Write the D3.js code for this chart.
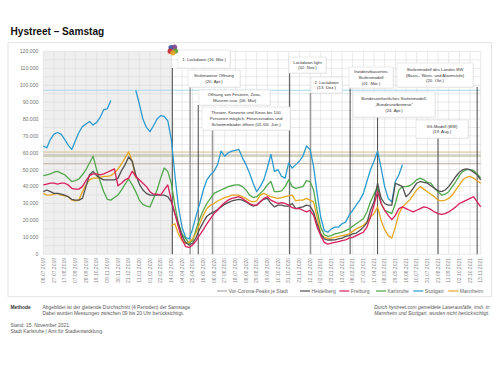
<!DOCTYPE html>
<html><head><meta charset="utf-8">
<script src="https://cdn.jsdelivr.net/npm/d3@7/dist/d3.min.js"></script>
<style>
body{margin:0;background:#fff;}
svg{display:block;font-family:"Liberation Sans",Arial,sans-serif;}
</style></head><body>
<svg id="c" width="500" height="373"></svg>
<script>
// ---------- DATA (values in thousands of passers-by, weekly Saturdays) ----------
const firstSaturday = "2019-07-06";
const lastSaturday = "2021-11-13";
const tickLabels = ["06.07.2019","27.07.2019","17.08.2019","07.09.2019","28.09.2019","19.10.2019","09.11.2019","30.11.2019","21.12.2019","11.01.2020","01.02.2020","22.02.2020","14.03.2020","04.04.2020","25.04.2020","16.05.2020","06.06.2020","27.06.2020","18.07.2020","08.08.2020","29.08.2020","19.09.2020","10.10.2020","31.10.2020","21.11.2020","12.12.2020","02.01.2021","23.01.2021","13.02.2021","06.03.2021","27.03.2021","17.04.2021","08.05.2021","29.05.2021","19.06.2021","10.07.2021","31.07.2021","21.08.2021","11.09.2021","02.10.2021","23.10.2021","13.11.2021"];
const yTicks = [0,10,20,30,40,50,60,70,80,90,100,110,120];
const yTickLabels = ["0","10.000","20.000","30.000","40.000","50.000","60.000","70.000","80.000","90.000","100.000","110.000","120.000"];

const heidelberg = [37,38,37,36,36,35.5,35,34,32.5,32, 32,33,40,47,49,46.5,45,44,44,44, 44,45,49.5,53,57.5,55,47,41.5,38,36, 35,35,35,35,35,34,31,24,18,11, 7,5.5,6.5,10,15,19,22.5,24,25,26.5, 28,29.5,30.5,31.5,32,32.5,32,31,29.5,28.5, 29,31,32.5,33,30,28,29,29,28.5,28.5, 30,27,27.5,28,29,28.5,25,18,12,9, 8.4,8.4,8.5,9,9.5,10.5,11,12,12.5,14, 16,18.5,26,31,42,33,30,29,29,42, 41,40,34,36,39,42,43,42.5,42,40.5, 39,37.5,37,38,40,43,46,48.5,50,50.5, 50,48.5,47,44];
const freiburg = [41,41.5,42,42,41.5,42,42,41,39,38.5, 38.5,40,43.5,46.5,47.5,47.5,47,47.5,48.5,49.5, 50.5,40.5,42,44,45,49,46,44,42,40, 37,35.5,35.5,35,38,41,32,24,16,9, 4.5,4,5.5,8,11.5,14.5,18,21,24,26, 28.5,30.5,32,33,33.5,34,33,31.5,30,29, 29,31,33,34,32,31,30,30.5,30,29, 27.5,27,27,26,25,26,23,16,11,7, 6,6.5,7,7.5,8,8.5,9.5,10,11,12, 13,16,22,29,37,30,26,23,20.5,23, 27,28,27,26,25,26,27,28,27.5,26.5, 25,24,23.5,24,25,26.5,28,30,31,32, 33,34,31,28];
const karlsruhe = [46.5,47,47.5,48.5,49,48,47,45,43,43.5, 44.5,47,50,54,58,50,43,37,32.5,32, 33.5,35,38,41.5,44.5,41,37,32,29.5,28.5, 28,33,38,45,51,49,42,29,18,12, 9.4,6.5,8,15,21,26,30,33,36,37, 38,39,40,40.5,41,41,40,38,35,33.5, 34,36,38,41,43,37,37,37.5,40,44, 40,39,39.5,40,43.5,43,38,26,16,11.5, 10.5,11,12,12.5,13,14,15,16.5,18,19.5, 21,25,31,35.5,40,30,26,25,24,30, 38,40,40,40.5,42,44,45,44,42.5,42, 39,37,35,35.5,37,40,43,46.5,49,50, 50,49.5,47.5,45];
const stuttgart = [64,63,68,71,72,71,68,64.5,62,67, 72,75.5,77,78.5,76.5,78,81,85.5,86,91, null,null,null,null,null,null,97,89,80,75, 72.5,76,80,82,81.5,79,68,47,28,16, 10,9,15,23,30,38,44,47,49,53, 61,58,60,61,61.5,62,57,53,48,42, 37,40,44,51,59,49,50,46,45,54, 51,53,55,58,64,62,52,36,22,14, 13,15,16,16,18,19,23,26,29,32, 36,43,50,55,61,51,40,33,31,43, 47,53,null,null,null,null,null,null,null,null, null,null,null,null,null,null,null,null,null,null, null,null,null,null];
const mannheim = [36,35,35,35.5,36,35,34.5,34,32,31.5, 32,37,41,44,45,45,45.5,46,46,46.5, 48,50.5,53.5,57,60.5,55,45,null,null,null, null,null,null,null,null,null,17,18,12,8, 6.4,7,9,13,18,23,27,29,30,31.5, 32.5,33.5,34,35,35,35,34,33,31.5,31, 31.5,35,36,35,34,33.5,33,33.5,34,34.5, 35,31.5,32,32,33,32,31,22,12,10, 9.4,9.5,10,10.5,11,11.5,12,13.5,15,16, 17,19,22,24,28,20,14.5,11,9.5,16, 24,28,30,32,35,38,40,38.5,37,35.5, 34,32,31.5,32,33,35,38,41,44,45.5, 46,45,43.5,42];

const seriesNames = ["Heidelberg","Freiburg","Karlsruhe","Stuttgart","Mannheim"];
const seriesValues = [heidelberg, freiburg, karlsruhe, stuttgart, mannheim];
const peakValues = [58.7, 53.6, 58.0, 97.0, 60.5]; // Vor-Corona-Peaks je Stadt (same order)

const eventDates = ["2020-03-16","2020-04-20","2020-05-06","2020-06-03","2020-11-02","2020-12-13","2021-03-01","2021-04-24","2021-08-21","2021-11-06"];
const eventTexts = [
  ["1. Lockdown (16. Mär.)"],
  ["Stufenweise Öffnung","(20. Apr.)"],
  ["Öffnung von Frisören, Zoos,","Museen usw. (06. Mai)"],
  ["Theater, Konzerte und Kinos bis 100","Personen möglich. Fitnessstudios und","Schwimmbäder öffnen (01./06. Jun.)"],
  ["Lockdown light","(02. Nov.)"],
  ["2. Lockdown","(13. Dez.)"],
  ["Inzidenzbasiertes","Stufenmodell","(01. Mär.)"],
  ["Bundeseinheitliches Stufenmodell,","„Bundesnotbremse“","(24. Apr.)"],
  ["3G-Modell (BW)","(19. Aug.)"],
  ["Stufenmodell des Landes BW","(Basis-, Warn- und Alarmstufe)","(20. Okt.)"]
];
const preCoronaEnd = "2020-03-16";

// ---------- STYLE / LAYOUT ----------
const colors = {Heidelberg:"#505050", Freiburg:"#d81f5a", Karlsruhe:"#4fa84a", Stuttgart:"#2b9bcf", Mannheim:"#e6a71e"};
const peakColors = ["#b9b1a3","#c9b7b0","#c2c6a8","#a9d8ea","#dcc48f"];
const eventStyle = ["dark","grey","dark","grey","dark","grey","dark","dark","dark","dark"];
// box: [x, y, w, h]
const boxes = [[178,50,52,18],[188,70,52,17],[199,90,71,15],[202,107,88,23],[289,57,37,16],[311,77,31,16],[349,67,44,21],[353,92,82,25],[416,120,52,18],[397,63,76,24]];

const svg = d3.select("#c");
const P = {l:43.3, r:480.7, t:51.4, b:254.2};
const parse = d3.utcParse("%Y-%m-%d");
const parseDMY = d3.utcParse("%d.%m.%Y");
const dates = d3.utcSaturday.range(parse(firstSaturday), d3.utcDay.offset(parse(lastSaturday),1));
const x = d3.scaleUtc().domain([parse(firstSaturday), parse(lastSaturday)]).range([P.l, P.r]);
const y = d3.scaleLinear().domain([0,120]).range([P.b, P.t]);

// title
svg.append("text").attr("x",10.5).attr("y",34.5).attr("font-size",10.1).attr("font-weight","bold").attr("fill","#111").text("Hystreet – Samstag");

// panel
svg.append("rect").attr("x",8).attr("y",42.7).attr("width",483.5).attr("height",254).attr("fill","#fff").attr("stroke","#e4e4e4").attr("stroke-width",1);

// background pre-corona
svg.append("rect").attr("x",P.l).attr("y",P.t).attr("width",x(parse(preCoronaEnd))-P.l).attr("height",P.b-P.t).attr("fill","#efefef");

// grid
const tickDates = tickLabels.map(parseDMY);
const g = svg.append("g");
g.selectAll("line.v").data(tickDates).join("line")
  .attr("x1",d=>x(d)).attr("x2",d=>x(d)).attr("y1",P.t).attr("y2",P.b)
  .attr("stroke","#dadada").attr("stroke-width",0.6);
const hgrid = d3.range(0,121,5);
g.selectAll("line.h").data(hgrid).join("line")
  .attr("x1",P.l).attr("x2",P.r).attr("y1",d=>y(d)).attr("y2",d=>y(d))
  .attr("stroke","#dadada").attr("stroke-width",0.6);

// y axis labels
svg.append("g").selectAll("text").data(yTicks).join("text")
  .attr("x",38.5).attr("y",d=>y(d)+1.8).attr("text-anchor","end")
  .attr("font-size",5.2).attr("fill","#777").text((d,i)=>yTickLabels[i]);

// x axis labels
svg.append("g").selectAll("text").data(tickDates).join("text")
  .attr("transform",d=>`translate(${x(d)+1.7},258) rotate(-90)`)
  .attr("text-anchor","end").attr("font-size",5).attr("fill","#888").text((d,i)=>tickLabels[i]);

// pre-corona peak lines
svg.append("g").selectAll("line").data(peakValues).join("line")
  .attr("x1",P.l).attr("x2",P.r).attr("y1",d=>y(d)).attr("y2",d=>y(d))
  .attr("stroke",(d,i)=>peakColors[i]).attr("stroke-width",1.1);

// event lines
eventDates.forEach((d,i)=>{
  const xx = x(parse(d));
  const b = boxes[i];
  svg.append("line").attr("x1",xx).attr("x2",xx).attr("y1",b[1]+b[3]).attr("y2",P.b)
    .attr("stroke",eventStyle[i]==="dark"?"#4a4a4a":"#9a9a9a").attr("stroke-width",eventStyle[i]==="dark"?1:1.5);
});

// series lines
const line = d3.line().defined(d=>d.v!=null).x(d=>x(d.d)).y(d=>y(d.v)).curve(d3.curveLinear);
const drawOrder = ["Stuttgart","Karlsruhe","Mannheim","Heidelberg","Freiburg"];
drawOrder.forEach(name=>{
  const vals = seriesValues[seriesNames.indexOf(name)];
  const pts = vals.map((v,i)=>({d:dates[i], v}));
  svg.append("path").datum(pts).attr("d",line).attr("fill","none")
    .attr("stroke",colors[name]).attr("stroke-width",1.3).attr("stroke-linejoin","round");
});

// annotation boxes
eventTexts.forEach((lines,i)=>{
  const b = boxes[i];
  svg.append("rect").attr("x",b[0]+0.6).attr("y",b[1]+0.6).attr("width",b[2]).attr("height",b[3]).attr("fill","#e6e6e6");
  svg.append("rect").attr("x",b[0]).attr("y",b[1]).attr("width",b[2]).attr("height",b[3]).attr("fill","#fff").attr("stroke","#d8d8d8").attr("stroke-width",0.5);
  const lh = 5.6;
  const y0 = b[1] + b[3]/2 - (lines.length-1)*lh/2 + 1.5;
  lines.forEach((t,j)=>{
    svg.append("text").attr("x",b[0]+b[2]/2).attr("y",y0+j*lh).attr("text-anchor","middle")
      .attr("font-size",4.3).attr("fill","#333").text(t);
  });
});

// logo
const logo = svg.append("g").attr("transform","translate(173,50)");
[[-2,-2.5,"#3a56a5"],[1.5,-2.8,"#7b3f8c"],[2.5,1,"#5aa02c"],[-2.8,1.2,"#c8242f"],[0,2.8,"#e2a11b"]].forEach(c=>{
  logo.append("circle").attr("cx",c[0]).attr("cy",c[1]).attr("r",2.6).attr("fill",c[2]).attr("opacity",0.9);
});

// legend
const legendItems = [["Vor-Corona-Peaks je Stadt","#a8a8a8",217],["Heidelberg",colors.Heidelberg,300],["Freiburg",colors.Freiburg,339.3],["Karlsruhe",colors.Karlsruhe,376],["Stuttgart",colors.Stuttgart,413.3],["Mannheim",colors.Mannheim,448.3]];
const lg = svg.append("g");
legendItems.forEach(([t,c,lx])=>{
  lg.append("line").attr("x1",lx).attr("x2",lx+10).attr("y1",291).attr("y2",291).attr("stroke",c).attr("stroke-width",1.2);
  lg.append("text").attr("x",lx+11.5).attr("y",292.7).attr("font-size",5).attr("fill","#666").text(t);
});

// footer
const ft = svg.append("g").attr("font-size",4.9).attr("fill","#555");
ft.append("text").attr("x",10.5).attr("y",308.5).attr("font-weight","bold").attr("fill","#333").text("Methode");
ft.append("text").attr("x",42.5).attr("y",308.5).text("Abgebildet ist der gleitende Durchschnitt (4 Perioden) der Samstage.");
ft.append("text").attr("x",42.5).attr("y",314.5).text("Dabei wurden Messungen zwischen 09 bis 20 Uhr berücksichtigt.");
ft.append("text").attr("x",10.5).attr("y",326.5).text("Stand: 15. November 2021.");
ft.append("text").attr("x",10.5).attr("y",332.5).text("Stadt Karlsruhe | Amt für Stadtentwicklung.");
ft.append("text").attr("x",489.5).attr("y",308.5).attr("text-anchor","end").attr("font-style","italic").text("Durch hystreet.com gemeldete Laserausfälle, insb. in");
ft.append("text").attr("x",489.5).attr("y",314.5).attr("text-anchor","end").attr("font-style","italic").text("Mannheim und Stuttgart, wurden nicht berücksichtigt.");
</script>
</body></html>
